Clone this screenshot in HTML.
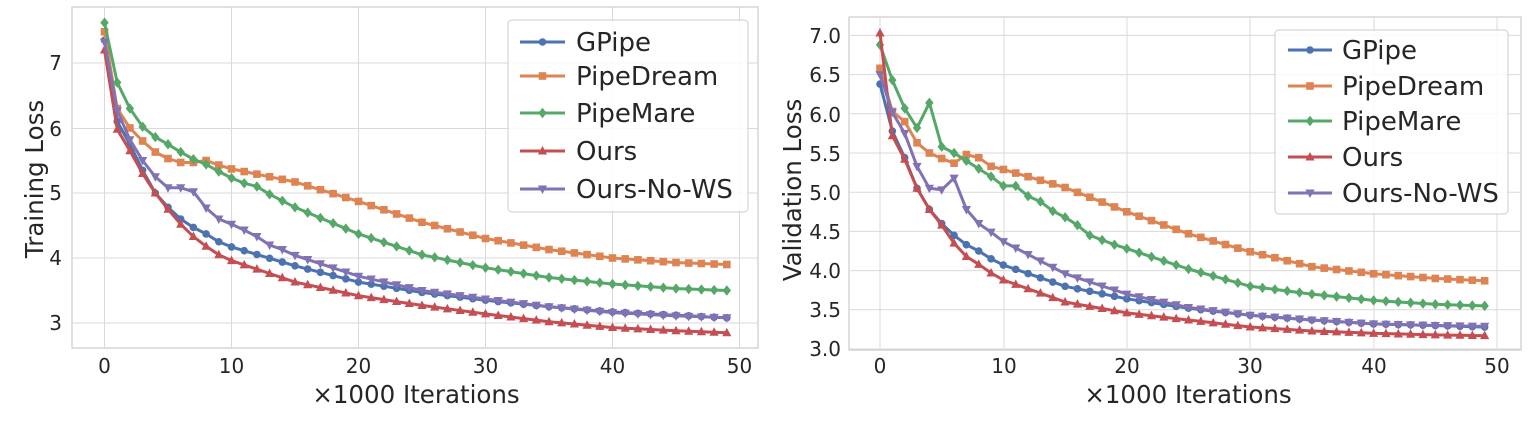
<!DOCTYPE html>
<html><head><meta charset="utf-8"><style>
body{margin:0;background:#fff;}
svg{display:block;font-family:"DejaVu Sans","Liberation Sans",sans-serif;}
.tk{font-size:20px;fill:#262626;}
.lb{font-size:24.5px;fill:#262626;}
.lg{font-size:26px;fill:#262626;}
</style></head><body>
<svg id="s" width="1530" height="430" xmlns="http://www.w3.org/2000/svg">
<rect x="72" y="7" width="686" height="341" fill="#fff" stroke="#ccc" stroke-width="1.2"/>
<rect x="849" y="17" width="672" height="333" fill="#fff" stroke="#ccc" stroke-width="1.2"/>
<g id="grid" stroke="#d9d9d9" stroke-width="1"></g>
<g id="series"></g>
<g class="tk" text-anchor="end">
<text x="62" y="70">7</text><text x="62" y="136">6</text><text x="62" y="200">5</text><text x="62" y="265">4</text><text x="62" y="330">3</text>
</g>
<g class="tk" text-anchor="middle">
<text x="104.5" y="373">0</text><text x="231.5" y="373">10</text><text x="358.5" y="373">20</text><text x="485.5" y="373">30</text><text x="612.5" y="373">40</text><text x="739.5" y="373">50</text>
</g>
<text class="lb" x="416" y="403" text-anchor="middle">×1000 Iterations</text>
<text class="lb" transform="translate(43,179) rotate(-90)" text-anchor="middle">Training Loss</text>
<g class="tk" text-anchor="end">
<text x="841" y="43">7.0</text><text x="841" y="82">6.5</text><text x="841" y="122">6.0</text><text x="841" y="161">5.5</text><text x="841" y="200">5.0</text><text x="841" y="239">4.5</text><text x="841" y="278">4.0</text><text x="841" y="317">3.5</text><text x="841" y="356">3.0</text>
</g>
<g class="tk" text-anchor="middle">
<text x="880" y="373">0</text><text x="1004" y="373">10</text><text x="1127" y="373">20</text><text x="1250" y="373">30</text><text x="1374" y="373">40</text><text x="1497" y="373">50</text>
</g>
<text class="lb" x="1188" y="403" text-anchor="middle">×1000 Iterations</text>
<text class="lb" transform="translate(801,190) rotate(-90)" text-anchor="middle">Validation Loss</text>
<rect x="508" y="20" width="240" height="192" rx="4" fill="#fff" fill-opacity="0.85" stroke="#ccc"/>
<rect x="1275" y="30" width="233" height="184" rx="4" fill="#fff" fill-opacity="0.85" stroke="#ccc"/>
<g id="leg"></g>
<g class="lg">
<text x="576" y="51">GPipe</text><text x="576" y="85">PipeDream</text><text x="576" y="122">PipeMare</text><text x="576" y="160">Ours</text><text x="576" y="198">Ours-No-WS</text>
<text x="1342" y="59">GPipe</text><text x="1342" y="95">PipeDream</text><text x="1342" y="130">PipeMare</text><text x="1342" y="166">Ours</text><text x="1342" y="202">Ours-No-WS</text>
</g>
</svg>
<script>
const NS="http://www.w3.org/2000/svg";
const C=["#4C72B0","#DD8452","#55A868","#C44E52","#8172B3"];
const M=["o","s","D","^","v"];
function el(p,t,a){const e=document.createElementNS(NS,t);for(const k in a)e.setAttribute(k,a[k]);p.appendChild(e);return e;}
const grid=document.getElementById("grid");
[104.5,231.5,358.5,485.5,612.5,739.5].forEach(x=>el(grid,"line",{x1:x,x2:x,y1:7,y2:348}));
[63,128.5,193,258,323].forEach(y=>el(grid,"line",{x1:72,x2:758,y1:y,y2:y}));
[880,1004,1127,1250,1374,1497].forEach(x=>el(grid,"line",{x1:x,x2:x,y1:17,y2:350}));
for(let v=3;v<=7.01;v+=0.5){const y=349-(v-3)*78.4;el(grid,"line",{x1:849,x2:1521,y1:y,y2:y});}
function interp(k){const out=[];for(let i=0;i<50;i++){let j=0;while(j<k.length-1&&k[j+1][0]<i)j++;const a=k[j],b=k[Math.min(j+1,k.length-1)];
 if(a[0]===i||b===a){out.push(a[1]);continue;} if(b[0]===i){out.push(b[1]);continue;}
 const t=(i-a[0])/(b[0]-a[0]);out.push(a[1]+(b[1]-a[1])*t);}return out;}
function marker(g,m,x,y,c){
 if(m=="o")el(g,"circle",{cx:x,cy:y,r:3.8,fill:c});
 else if(m=="s")el(g,"rect",{x:x-3.8,y:y-3.8,width:7.6,height:7.6,fill:c});
 else if(m=="D")el(g,"polygon",{points:`${x},${y-5.2} ${x+4.2},${y} ${x},${y+5.2} ${x-4.2},${y}`,fill:c});
 else if(m=="^")el(g,"polygon",{points:`${x},${y-5} ${x+4.6},${y+3.5} ${x-4.6},${y+3.5}`,fill:c});
 else el(g,"polygon",{points:`${x},${y+5} ${x+4.6},${y-3.5} ${x-4.6},${y-3.5}`,fill:c});}
const L=[
[[0,7.35],[1,6.1],[2,5.75],[3,5.35],[4,5.0],[5,4.78],[6,4.6],[7,4.47],[8,4.37],[9,4.25],[10,4.17],[15,3.88],[20,3.63],[25,3.47],[30,3.35],[35,3.25],[40,3.17],[45,3.12],[49,3.08]],
[[0,7.48],[1,6.3],[2,6.0],[3,5.8],[4,5.63],[5,5.53],[6,5.47],[7,5.47],[8,5.5],[9,5.43],[10,5.37],[15,5.17],[20,4.87],[25,4.55],[30,4.3],[35,4.13],[40,4.0],[45,3.93],[49,3.9]],
[[0,7.62],[1,6.7],[2,6.3],[3,6.02],[4,5.86],[5,5.75],[6,5.63],[7,5.52],[8,5.44],[9,5.33],[10,5.23],[11,5.15],[12,5.1],[13,4.98],[14,4.88],[15,4.78],[20,4.37],[25,4.05],[30,3.85],[35,3.7],[40,3.6],[45,3.53],[49,3.5]],
[[0,7.2],[1,5.98],[2,5.65],[3,5.3],[4,5.0],[5,4.75],[6,4.52],[7,4.33],[8,4.18],[9,4.05],[10,3.96],[15,3.63],[20,3.42],[25,3.27],[30,3.14],[35,3.02],[40,2.93],[45,2.88],[49,2.85]],
[[0,7.32],[1,6.27],[2,5.82],[3,5.5],[4,5.25],[5,5.08],[6,5.08],[7,5.02],[8,4.77],[9,4.6],[10,4.52],[11,4.43],[12,4.33],[13,4.2],[14,4.13],[15,4.04],[20,3.72],[25,3.5],[30,3.37],[35,3.25],[40,3.16],[45,3.11],[49,3.08]]];
const R=[
[[0,6.38],[1,5.78],[2,5.44],[3,5.05],[4,4.78],[5,4.6],[6,4.45],[7,4.33],[8,4.25],[9,4.15],[10,4.07],[15,3.8],[20,3.64],[25,3.52],[30,3.43],[35,3.37],[40,3.32],[45,3.3],[49,3.28]],
[[0,6.58],[1,6.03],[2,5.9],[3,5.63],[4,5.5],[5,5.43],[6,5.37],[7,5.48],[8,5.44],[9,5.33],[10,5.29],[15,5.06],[20,4.75],[25,4.47],[30,4.24],[35,4.05],[40,3.96],[45,3.9],[49,3.87]],
[[0,6.88],[1,6.43],[2,6.07],[3,5.82],[4,6.14],[5,5.58],[6,5.5],[7,5.4],[8,5.3],[9,5.2],[10,5.08],[11,5.08],[12,4.95],[13,4.88],[14,4.76],[15,4.68],[16,4.58],[17,4.45],[18,4.39],[19,4.33],[20,4.28],[25,4.02],[30,3.8],[35,3.7],[40,3.62],[45,3.57],[49,3.55]],
[[0,7.03],[1,5.72],[2,5.42],[3,5.05],[4,4.78],[5,4.58],[6,4.35],[7,4.18],[8,4.08],[9,3.97],[10,3.88],[15,3.6],[20,3.46],[25,3.37],[30,3.28],[35,3.23],[40,3.2],[45,3.18],[49,3.17]],
[[0,6.5],[1,6.02],[2,5.75],[3,5.33],[4,5.05],[5,5.03],[6,5.18],[7,4.78],[8,4.6],[9,4.49],[10,4.37],[15,3.96],[20,3.7],[25,3.53],[30,3.43],[35,3.37],[40,3.32],[45,3.3],[49,3.29]]];
const S=document.getElementById("series");
function draw(data,fx,fy){data.forEach((k,si)=>{const v=interp(k);const g=el(S,"g",{});
 const pts=v.map((y,i)=>fx(i).toFixed(1)+","+fy(y).toFixed(1)).join(" ");
 el(g,"polyline",{points:pts,fill:"none",stroke:C[si],"stroke-width":3,"stroke-linejoin":"round"});
 v.forEach((y,i)=>marker(g,M[si],fx(i),fy(y),C[si]));});}
draw(L,i=>104.5+i*12.7,y=>323-(y-3)*65);
draw(R,i=>880+i*12.34,y=>349-(y-3)*78.4);
const lg=document.getElementById("leg");
[[520,565,[42,76,113,151,189]],[1288,1332,[50,86,121,157,193]]].forEach(([a,b,ys])=>ys.forEach((y,i)=>{
 el(lg,"line",{x1:a,x2:b,y1:y,y2:y,stroke:C[i],"stroke-width":3});marker(lg,M[i],(a+b)/2,y,C[i]);}));
</script>
</body></html>
